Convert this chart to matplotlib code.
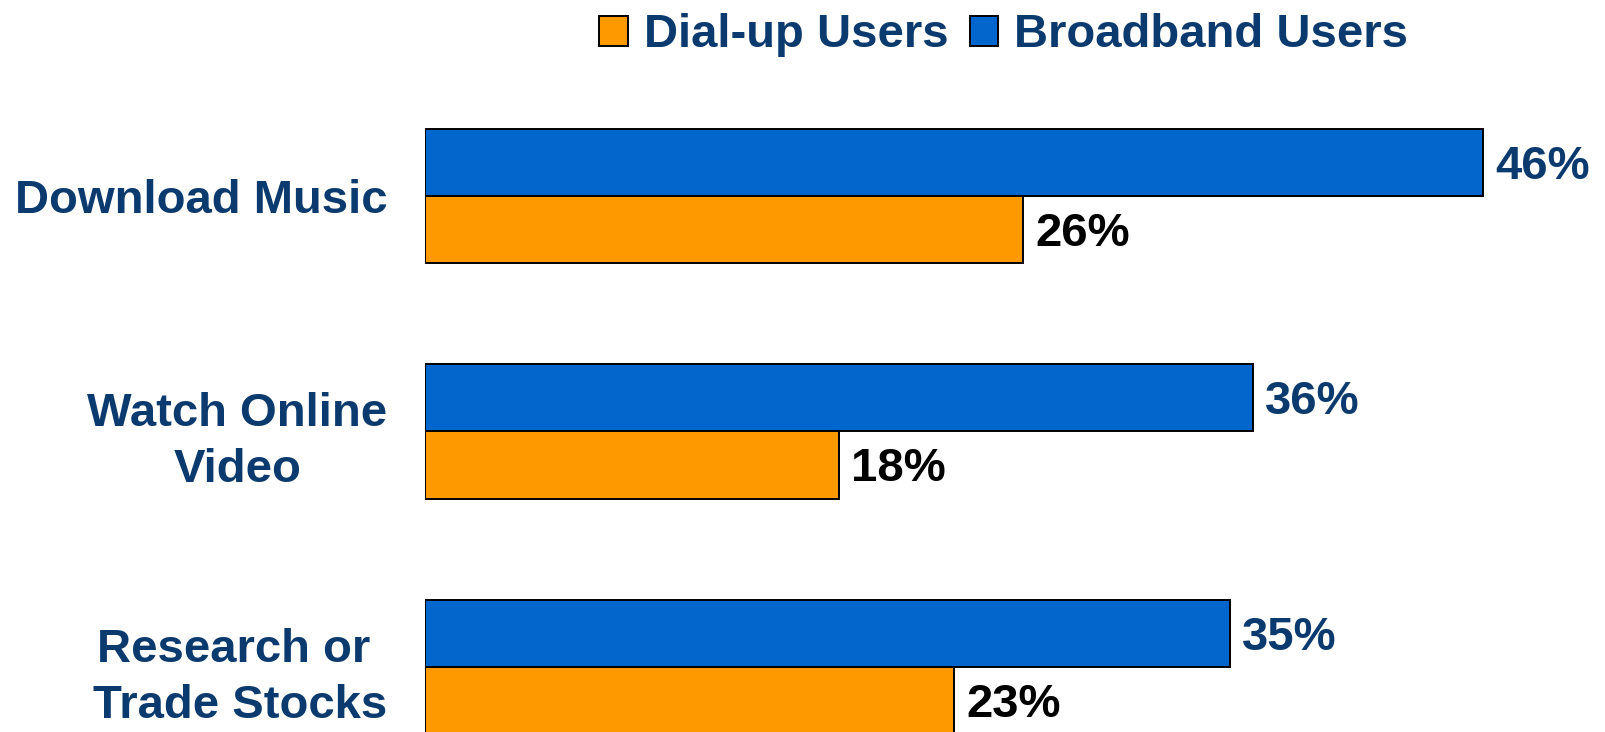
import matplotlib.pyplot as plt
import numpy as np

# data
categories = ["Download Music", "Watch Online\nVideo", "Research or \nTrade Stocks"]
dialup = [26, 18, 23]
broadband = [46, 36, 35]

navy = "#0B3A6E"
blue = "#0366CC"
orange = "#FF9900"

plt.rcParams['font.family'] = ['Liberation Sans', 'DejaVu Sans']

fig = plt.figure(figsize=(16.06, 7.32), dpi=100)
ax = fig.add_axes([425 / 1606, 0, 1 - 425 / 1606, 1])

y = np.arange(len(categories))
h = 0.285
b1 = ax.barh(y - h / 2, broadband, height=h, color=blue, edgecolor='black',
             linewidth=1.4, label="Broadband Users")
b2 = ax.barh(y + h / 2, dialup, height=h, color=orange, edgecolor='black',
             linewidth=1.4, label="Dial-up Users")

ax.set_xlim(0, 51.35)
ax.set_ylim(2.276, -0.832)

for yi, v in zip(y, broadband):
    ax.annotate(f"{v}%", (v, yi - h / 2), xytext=(9, -3), textcoords='offset points',
                ha='left', va='center', fontsize=34, fontweight='bold', color=navy)
for yi, v in zip(y, dialup):
    ax.annotate(f"{v}%", (v, yi + h / 2), xytext=(9, -3), textcoords='offset points',
                ha='left', va='center', fontsize=34, fontweight='bold', color='black')

ax.set_yticks(y, labels=categories, fontsize=34, fontweight='bold', color=navy,
              multialignment='center', linespacing=1.35)
ax.tick_params(axis='y', length=0, pad=27)
ax.set_xticks([])
for s in ax.spines.values():
    s.set_visible(False)

leg = fig.legend([b2, b1], ["Dial-up Users", "Broadband Users"], loc='upper center',
                 bbox_to_anchor=(0.625, 1.04), ncol=2, frameon=False,
                 prop={'size': 34, 'weight': 'bold'}, handlelength=0.6,
                 handleheight=0.6, handletextpad=0.34, columnspacing=0.45)
for t in leg.get_texts():
    t.set_color(navy)

fig.savefig("out.png", dpi=100)
